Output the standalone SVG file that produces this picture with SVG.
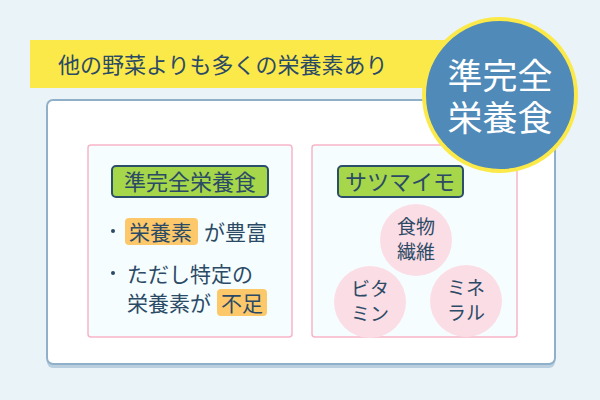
<svg xmlns="http://www.w3.org/2000/svg" width="600" height="400" viewBox="0 0 600 400">
<style>
text{font-family:"Noto Sans CJK JP",sans-serif;fill:#2b4a66}
.inner{fill:#f6fdfe;stroke:#f7b5c8;stroke-width:1.5}
.tag{fill:#a6d64a;stroke:#2b4f6b;stroke-width:2}
.hl{fill:#fcc86a}
.bub{fill:#fbdde5}
.b{font-size:19px;text-anchor:middle}
</style>
<rect width="600" height="400" fill="#eaf3f8"/>
<g id="banner"><rect x="30" y="40" width="420" height="48" fill="#fbe94a"/><text x="58" y="73" font-size="22">他の野菜よりも多くの栄養素あり</text></g>
<g id="main"><rect x="47" y="103" width="508" height="265" rx="6" fill="#b9cfdf"/><rect x="47" y="100" width="508" height="264" rx="6" fill="#fff" stroke="#8fb0c8" stroke-width="2"/></g>
<g id="left">
<rect class="inner" x="88" y="145" width="204" height="192" rx="3"/>
<rect class="tag" x="112" y="166" width="156" height="31" rx="4"/>
<text x="190" y="190" font-size="22" text-anchor="middle">準完全栄養食</text>
<circle cx="113" cy="231" r="2" fill="#2b4a66"/>
<rect class="hl" x="125" y="218" width="73" height="27" rx="4"/>
<text x="129" y="240" font-size="21">栄養素</text>
<text x="204" y="240" font-size="21">が豊富</text>
<circle cx="113" cy="273" r="2" fill="#2b4a66"/>
<text x="127" y="282" font-size="21">ただし特定の</text>
<rect class="hl" x="217" y="289" width="50" height="27" rx="4"/>
<text x="127" y="311" font-size="21">栄養素が</text>
<text x="221" y="311" font-size="21">不足</text>
</g>
<g id="right">
<rect class="inner" x="312" y="145" width="205" height="192" rx="3"/>
<rect class="tag" x="338" y="166" width="125" height="31" rx="4"/>
<text x="400" y="190" font-size="22" text-anchor="middle">サツマイモ</text>
<circle class="bub" cx="416" cy="240" r="36"/>
<text class="b" x="416" y="234">食物</text><text class="b" x="416" y="259">繊維</text>
<circle class="bub" cx="370" cy="302" r="36"/>
<text class="b" x="370" y="296">ビタ</text><text class="b" x="370" y="321">ミン</text>
<circle class="bub" cx="466" cy="301" r="36"/>
<text class="b" x="466" y="295">ミネ</text><text class="b" x="466" y="320">ラル</text>
</g>
<g id="badge"><circle cx="500" cy="95" r="76" fill="#4f8ab8" stroke="#fbe94a" stroke-width="4"/>
<text x="500" y="89" font-size="35" text-anchor="middle" style="fill:#fff">準完全</text>
<text x="500" y="131" font-size="35" text-anchor="middle" style="fill:#fff">栄養食</text></g>
</svg>
